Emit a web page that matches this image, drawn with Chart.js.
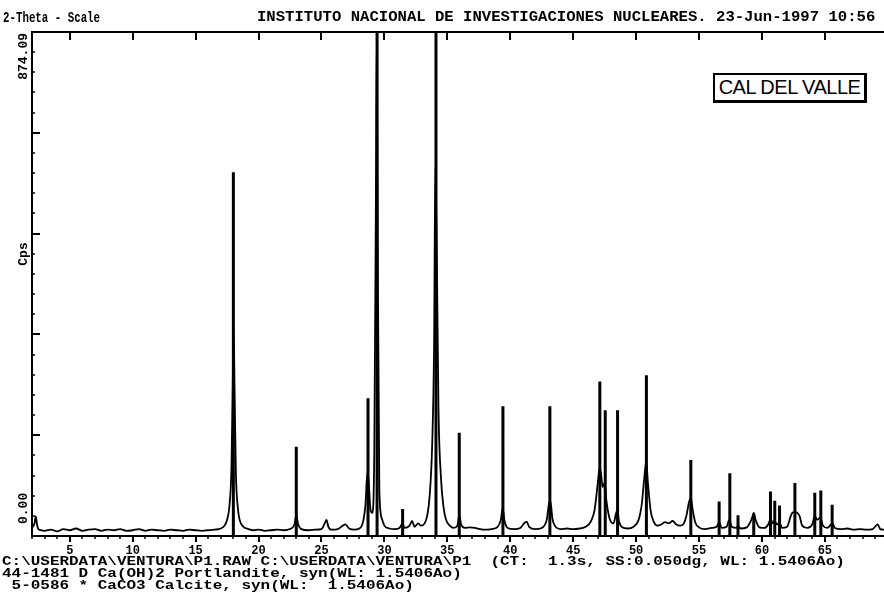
<!DOCTYPE html>
<html>
<head>
<meta charset="utf-8">
<script src="https://cdn.jsdelivr.net/npm/chart.js@4.4.1/dist/chart.umd.min.js"></script>
<style>
html,body{margin:0;padding:0;background:#fff;}
#wrap{position:relative;width:884px;height:598px;overflow:hidden;background:#fff;}
#plot{position:absolute;left:0;top:0;}
.t{position:absolute;font-family:"Liberation Mono","DejaVu Sans Mono",monospace;font-weight:bold;color:#000;white-space:pre;transform-origin:0 0;}
#hdrL{left:3px;top:11px;font-size:14px;line-height:14px;transform:scaleX(0.77);}
#hdrR{left:257px;top:10px;font-size:14px;line-height:14px;transform:scaleX(1.115);}
.foot{left:2px;font-size:12px;line-height:12px;transform:scaleX(1.33);}
#f1{top:556px;}
#f2{top:568px;}
#f3{top:580px;}
#badge{position:absolute;left:713px;top:73px;width:149px;height:25px;border:2px solid #000;border-right-width:3px;border-bottom-width:3px;background:#fff;font-family:"Liberation Sans",Arial,sans-serif;font-size:20px;line-height:25px;text-align:center;letter-spacing:-0.5px;color:#000;white-space:nowrap;}
</style>
</head>
<body>
<div id="wrap">
  <canvas id="plot" width="884" height="598"></canvas>
  <div class="t" id="hdrL">2-Theta - Scale</div>
  <div class="t" id="hdrR">INSTITUTO NACIONAL DE INVESTIGACIONES NUCLEARES. 23-Jun-1997 10:56</div>
  <div id="badge">CAL DEL VALLE</div>
  <div class="t foot" id="f1">C:\USERDATA\VENTURA\P1.RAW C:\USERDATA\VENTURA\P1  (CT:  1.3s, SS:0.050dg, WL: 1.5406Ao)</div>
  <div class="t foot" id="f2">44-1481 D Ca(OH)2 Portlandite, syn(WL: 1.5406Ao)</div>
  <div class="t foot" id="f3"> 5-0586 * CaCO3 Calcite, syn(WL:  1.5406Ao)</div>
</div>
<script>
// Measured scan: 2-theta (deg) and intensity (cps)
const twoTheta = [
  2.0, 2.2, 2.3, 2.4, 2.5, 2.7, 3.0, 3.5, 4.0, 4.5, 5.0, 5.5, 6.0, 6.5, 7.0, 7.5, 8.0, 8.5, 9.0, 9.5,
  10.0, 10.5, 11.0, 11.5, 12.0, 12.5, 13.0, 13.5, 14.0, 14.5, 15.0, 15.5, 16.0, 16.5, 17.0, 17.3, 17.5, 17.7, 17.85, 17.95,
  18.02, 18.1, 18.2, 18.35, 18.5, 18.8, 19.2, 19.6, 20.0, 20.5, 21.0, 21.5, 22.0, 22.5, 22.85, 23.0, 23.15, 23.4, 24.0, 24.5,
  25.0, 25.3, 25.4, 25.55, 25.8, 26.3, 26.7, 26.9, 27.2, 27.6, 28.0, 28.3, 28.5, 28.65, 28.75, 28.9, 29.05, 29.2, 29.33, 29.4,
  29.47, 29.6, 29.8, 30.0, 30.4, 30.8, 31.2, 31.45, 31.6, 32.0, 32.2, 32.4, 32.7, 32.9, 33.2, 33.4, 33.6, 33.8, 33.95, 34.05,
  34.15, 34.3, 34.5, 34.7, 34.9, 35.2, 35.5, 35.8, 35.95, 36.1, 36.4, 36.8, 37.2, 37.6, 38.0, 38.5, 39.0, 39.25, 39.4, 39.55,
  39.8, 40.3, 40.8, 41.1, 41.3, 41.5, 42.0, 42.5, 42.9, 43.1, 43.2, 43.35, 43.6, 44.0, 44.5, 45.0, 45.5, 46.0, 46.4, 46.7,
  46.95, 47.1, 47.2, 47.35, 47.5, 47.65, 47.9, 48.2, 48.4, 48.5, 48.65, 48.9, 49.3, 49.8, 50.2, 50.45, 50.65, 50.8, 50.95, 51.15,
  51.4, 51.7, 52.0, 52.3, 52.6, 52.9, 53.2, 53.5, 53.8, 54.0, 54.2, 54.35, 54.5, 54.7, 55.0, 55.5, 56.0, 56.4, 56.6, 56.8,
  57.2, 57.4, 57.6, 58.0, 58.1, 58.3, 58.8, 59.2, 59.35, 59.5, 59.8, 60.2, 60.5, 60.7, 60.85, 61.0, 61.2, 61.4, 61.6, 62.0,
  62.25, 62.4, 62.6, 62.8, 63.0, 63.2, 63.6, 64.0, 64.2, 64.4, 64.65, 64.85, 65.2, 65.6, 65.8, 66.3, 66.8, 67.3, 67.8, 68.3,
  68.8, 69.2, 69.4, 69.7
];
const counts = [
  14, 22, 34, 20, 12, 10, 9, 11, 8, 12, 10, 13, 9, 11, 12, 9, 11, 10, 12, 9,
  10, 12, 9, 11, 10, 9, 11, 10, 9, 11, 10, 9, 10, 11, 13, 18, 28, 55, 120, 260,
  360, 250, 110, 50, 28, 16, 12, 10, 11, 9, 10, 11, 10, 12, 20, 36, 20, 12, 10, 11,
  12, 24, 28, 16, 11, 12, 18, 20, 13, 11, 13, 24, 55, 110, 95, 45, 40, 150, 600, 874,
  500, 80, 30, 18, 13, 12, 14, 22, 14, 18, 26, 16, 22, 18, 22, 35, 70, 160, 330, 640,
  520, 220, 100, 50, 28, 18, 14, 18, 36, 20, 14, 15, 14, 12, 11, 12, 16, 28, 48, 26,
  14, 12, 14, 22, 25, 16, 12, 14, 28, 58, 60, 30, 16, 12, 13, 12, 13, 16, 25, 45,
  90, 118, 110, 85, 92, 60, 30, 22, 38, 45, 25, 15, 13, 16, 28, 55, 100, 128, 90, 45,
  25, 18, 20, 24, 22, 26, 20, 18, 22, 35, 58, 66, 45, 24, 15, 12, 14, 16, 24, 14,
  16, 28, 16, 14, 18, 13, 15, 30, 40, 28, 15, 14, 20, 30, 22, 26, 20, 24, 14, 16,
  32, 40, 42, 40, 34, 18, 14, 20, 35, 28, 32, 18, 14, 22, 14, 12, 13, 11, 12, 11,
  12, 20, 12, 11
];

// Reference patterns (stick positions in deg, heights in cps)
const portlanditePos = [18.0, 28.7, 34.1, 47.12, 50.82, 54.35, 59.35, 62.62, 64.2, 64.68];
const portlanditeInt = [631, 239, 874.09, 268, 279, 132, 35, 92, 75, 79];
const calcitePos = [23.0, 29.42, 31.45, 35.95, 39.42, 43.15, 47.55, 48.53, 56.6, 57.45, 58.1, 60.68, 61.02, 61.4, 65.58];
const calciteInt = [155, 874.09, 47, 179, 225, 225, 218, 218, 60, 109, 36, 77, 61, 53, 54];

// Axis definitions
const xRange = [2, 69.7];
const xTickValues = [5, 10, 15, 20, 25, 30, 35, 40, 45, 50, 55, 60, 65];
const yRange = [0, 874.09];
const yTickLabels = ['0.00', '874.09'];
const yAxisTitle = 'Cps';

const patternPoints = twoTheta.map((x, i) => ({ x: x, y: counts[i] }));
function sticks(pos, ints) {
  const out = [];
  pos.forEach((p, i) => {
    out.push({ x: p, y: 0 }, { x: p, y: ints[i] }, { x: p, y: null });
  });
  return out;
}

const frameTicks = {
  id: 'frameTicks',
  afterDraw(chart) {
    const { ctx, chartArea: a, scales: { x, y } } = chart;
    const seg = (x1, y1, x2, y2) => { ctx.beginPath(); ctx.moveTo(x1, y1); ctx.lineTo(x2, y2); ctx.stroke(); };
    ctx.save();
    ctx.strokeStyle = '#000';
    ctx.fillStyle = '#000';
    // top frame with inward major ticks
    ctx.lineWidth = 2;
    seg(a.left - 1, a.top, a.right, a.top);
    xTickValues.forEach(v => {
      const px = Math.round(x.getPixelForValue(v));
      seg(px, a.top, px, a.top + 8);
    });
    // minor ticks under the bottom axis, one per degree
    ctx.lineWidth = 1.5;
    for (let v = Math.ceil(x.min); v <= x.max; v++) {
      if (v % 5 === 0) continue;
      const px = Math.round(x.getPixelForValue(v));
      seg(px, a.bottom, px, a.bottom + 3);
    }
    // inward ticks on the count axis
    const span = y.max - y.min;
    for (let i = 1; i < 25; i++) {
      const py = Math.round(y.getPixelForValue(y.min + span * i / 25));
      if (i % 5 === 0) { ctx.lineWidth = 2; seg(a.left, py, a.left + 8, py); }
      else { ctx.lineWidth = 1.5; seg(a.left, py, a.left + 3, py); }
    }
    // rotated count labels
    ctx.font = 'bold 13px "Liberation Mono", monospace';
    ctx.textBaseline = 'middle';
    const labelX = 24;
    ctx.save();
    ctx.translate(labelX, y.getPixelForValue(yRange[1]) + 1);
    ctx.rotate(-Math.PI / 2);
    ctx.textAlign = 'right';
    ctx.fillText(yTickLabels[1], 0, 0);
    ctx.restore();
    ctx.save();
    ctx.translate(labelX, y.getPixelForValue(yRange[0]) - 12);
    ctx.rotate(-Math.PI / 2);
    ctx.textAlign = 'left';
    ctx.fillText(yTickLabels[0], 0, 0);
    ctx.restore();
    ctx.save();
    ctx.translate(labelX, 254);
    ctx.rotate(-Math.PI / 2);
    ctx.textAlign = 'center';
    ctx.fillText(yAxisTitle, 0, 0);
    ctx.restore();
    ctx.restore();
  }
};

new Chart(document.getElementById('plot'), {
  type: 'line',
  data: {
    datasets: [
      { label: 'P1', data: patternPoints, borderColor: '#000', borderWidth: 1.8, pointRadius: 0, cubicInterpolationMode: 'monotone', fill: false },
      { label: '44-1481 Portlandite', data: sticks(portlanditePos, portlanditeInt), borderColor: '#000', borderWidth: 3, pointRadius: 0, tension: 0, spanGaps: false, fill: false },
      { label: '5-0586 Calcite', data: sticks(calcitePos, calciteInt), borderColor: '#000', borderWidth: 3, pointRadius: 0, tension: 0, spanGaps: false, fill: false }
    ]
  },
  options: {
    responsive: false,
    animation: false,
    events: [],
    parsing: true,
    layout: { padding: { top: 32, left: 0, right: 0, bottom: 0 } },
    plugins: { legend: { display: false }, tooltip: { enabled: false }, title: { display: false } },
    scales: {
      x: {
        type: 'linear',
        min: xRange[0],
        max: xRange[1],
        afterBuildTicks: s => { s.ticks = xTickValues.map(v => ({ value: v })); },
        afterFit: s => { s.height = 62; },
        ticks: {
          autoSkip: false, maxRotation: 0, minRotation: 0, padding: 2, color: '#000',
          font: { family: '"Liberation Mono", monospace', size: 12, weight: 'bold' },
          callback: v => String(v)
        },
        grid: { drawOnChartArea: false, drawTicks: true, tickLength: 6, color: '#000', lineWidth: 2 },
        border: { display: true, color: '#000', width: 2 }
      },
      y: {
        type: 'linear',
        min: yRange[0],
        max: yRange[1],
        afterFit: s => { s.width = 32; },
        ticks: { display: false },
        grid: { display: false, drawTicks: false },
        border: { display: true, color: '#000', width: 2 }
      }
    }
  },
  plugins: [frameTicks]
});
</script>
</body>
</html>
